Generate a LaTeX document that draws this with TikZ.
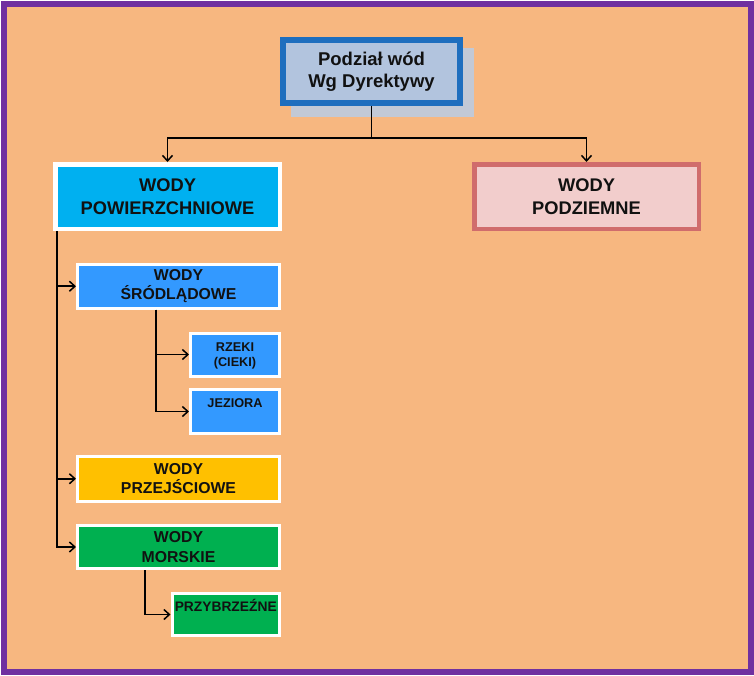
\documentclass[tikz,border=0pt]{standalone}
\usepackage{fontspec}
\setmainfont{Liberation Sans}
\usetikzlibrary{arrows.meta}
\definecolor{bgc}{HTML}{F7B780}
\definecolor{framec}{HTML}{7030A0}
\definecolor{topfill}{HTML}{B2C4DE}
\definecolor{topdraw}{HTML}{1E6EBE}
\definecolor{shadowc}{HTML}{C2C9D6}
\definecolor{powfill}{HTML}{00B0F0}
\definecolor{podfill}{HTML}{F2CDCC}
\definecolor{poddraw}{HTML}{D06C6C}
\definecolor{srofill}{HTML}{3399FF}
\definecolor{przfill}{HTML}{FFC000}
\definecolor{morfill}{HTML}{00B050}
\definecolor{txt}{HTML}{111111}
\begin{document}
\begin{tikzpicture}[x=1pt,y=-1pt,
  box/.style={draw, rectangle, inner sep=0pt, align=center, text=txt},
  bigbox/.style={box, line width=4.5pt, minimum width=224.5pt, minimum height=64.5pt, font=\fontsize{18.3}{22.5}\selectfont\bfseries},
  midbox/.style={box, line width=3pt, draw=white, minimum width=202pt, font=\fontsize{15.8}{19.5}\selectfont\bfseries},
  smallbox/.style={box, line width=3pt, draw=white},
  smalltext/.style={inner sep=0pt, align=center, text=txt, font=\fontsize{12.7}{15}\selectfont\bfseries},
  link/.style={draw=black, line width=1.8pt},
  conn/.style={link, -{Straight Barb[length=5.5pt,width=10pt,line width=1.5pt]}},
]
\useasboundingbox (0,0) rectangle (754,675);
\draw[line width=6pt, draw=framec, fill=bgc] (4,4) rectangle (751,672);

% top box with shadow
\fill[shadowc] (291,48) rectangle (474,117);
\node[box, line width=6pt, draw=topdraw, fill=topfill, minimum width=177pt, minimum height=63pt,
      font=\fontsize{18.5}{22}\selectfont\bfseries] (top) at (371.5,71.5) {Podział wód\\Wg Dyrektywy};

\node[bigbox, draw=white, fill=powfill] (pow) at (167.5,196.5) {WODY\\POWIERZCHNIOWE};
\node[bigbox, draw=poddraw, fill=podfill] (pod) at (586.5,196.5) {WODY\\PODZIEMNE};

\node[midbox, fill=srofill, minimum height=43.5pt] (sro) at (178.5,286.25) {WODY\\ŚRÓDLĄDOWE};
\node[midbox, fill=przfill, minimum height=44.5pt] (prz) at (178.5,478.75) {WODY\\PRZEJŚCIOWE};
\node[midbox, fill=morfill, minimum height=43pt] (mor) at (178.5,547) {WODY\\MORSKIE};

\node[smallbox, fill=srofill, minimum width=89pt, minimum height=43pt,
      label={[smalltext, anchor=north, yshift=-11.2pt]north:{RZEKI\\(CIEKI)}}] (rze) at (235,354.5) {};
\node[smallbox, fill=srofill, minimum width=89pt, minimum height=44pt,
      label={[smalltext, anchor=base, yshift=-19pt]north:{JEZIORA}}] (jez) at (235,411.5) {};
\node[smallbox, fill=morfill, minimum width=107.5pt, minimum height=42pt,
      label={[smalltext, font=\fontsize{13.8}{15}\selectfont\bfseries, anchor=base, yshift=-19pt]north:{PRZYBRZEŹNE}}] (pbz) at (225.75,614.5) {};

% connectors
\coordinate (j) at (371.5,138);
\draw[link] (top.south) -- (top.south |- j);
\draw[conn] (top.south |- j) -| (pow.north);
\draw[conn] (top.south |- j) -| (pod.north);

\coordinate (t1) at ([xshift=4pt]pow.south west);
\draw[conn] (t1) |- (sro.west);
\draw[conn] (t1) |- (prz.west);
\draw[conn] (t1) |- (mor.west);

\coordinate (t2) at ([xshift=-22.5pt]sro.south);
\draw[conn] (t2) |- (rze.west);
\draw[conn] (t2) |- (jez.west);

\coordinate (t3) at ([xshift=-33.5pt]mor.south);
\draw[conn] (t3) |- (pbz.west);
\end{tikzpicture}
\end{document}
